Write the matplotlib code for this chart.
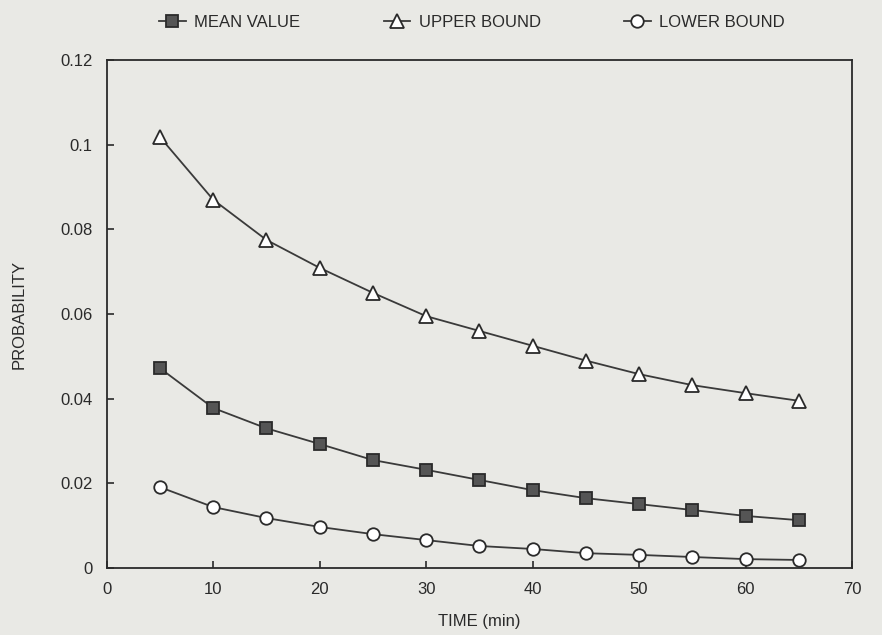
import numpy as np
import matplotlib
matplotlib.use('Agg')
import matplotlib.pyplot as plt

# --- Data ---
time_min = [5, 10, 15, 20, 25, 30, 35, 40, 45, 50, 55, 60, 65]
mean_value = [0.0472, 0.0378, 0.0330, 0.0293, 0.0255, 0.0232, 0.0208,
              0.0184, 0.0165, 0.0151, 0.0137, 0.0123, 0.0113]
upper_bound = [0.1018, 0.0870, 0.0775, 0.0709, 0.0650, 0.0595, 0.0560,
               0.0525, 0.0490, 0.0458, 0.0432, 0.0413, 0.0395]
lower_bound = [0.0191, 0.0144, 0.0118, 0.0097, 0.0080, 0.0066, 0.0052,
               0.0045, 0.0035, 0.0031, 0.0026, 0.0021, 0.0019]

plt.rcParams['font.family'] = ['Liberation Sans', 'DejaVu Sans']

fig = plt.figure(figsize=(8.82, 6.35), dpi=100, facecolor='#e9e9e5')
ax = fig.add_axes([0.121, 0.1055, 0.845, 0.80])
ax.set_facecolor('#e9e9e5')

line_kw = dict(color='#3a3a3a', linewidth=1.3, markersize=8,
               markeredgecolor='#2a2a2a', markeredgewidth=1.3)
ax.plot(time_min, mean_value, marker='s', markerfacecolor='#555555',
        label='MEAN VALUE', **line_kw)
ax.plot(time_min, upper_bound, marker='^', markerfacecolor='white',
        label='UPPER BOUND', **{**line_kw, 'markersize': 10})
ax.plot(time_min, lower_bound, marker='o', markerfacecolor='white',
        label='LOWER BOUND', **{**line_kw, 'markersize': 9})

ax.set_xlim(0, 70)
ax.set_ylim(0, 0.12)
ax.set_xticks(range(0, 71, 10))
ax.set_yticks([0, 0.02, 0.04, 0.06, 0.08, 0.1, 0.12])
ax.set_yticklabels(['0', '0.02', '0.04', '0.06', '0.08', '0.1', '0.12'])
ax.tick_params(direction='in', length=5, width=1.2, colors='#2a2a2a',
               labelsize=12, pad=10)
for s in ax.spines.values():
    s.set_color('#2a2a2a')
    s.set_linewidth(1.3)

ax.set_xlabel('TIME (min)', fontsize=12, color='#2a2a2a', labelpad=12)
ax.set_ylabel('PROBABILITY', fontsize=12, color='#2a2a2a', labelpad=24)

fig.legend(loc='upper center', bbox_to_anchor=(0.535, 1.0), ncol=3,
           frameon=False, fontsize=12, handlelength=1.6, handletextpad=0.5,
           columnspacing=5, labelcolor='#2a2a2a')

plt.savefig('out.png', dpi=100, facecolor=fig.get_facecolor())
